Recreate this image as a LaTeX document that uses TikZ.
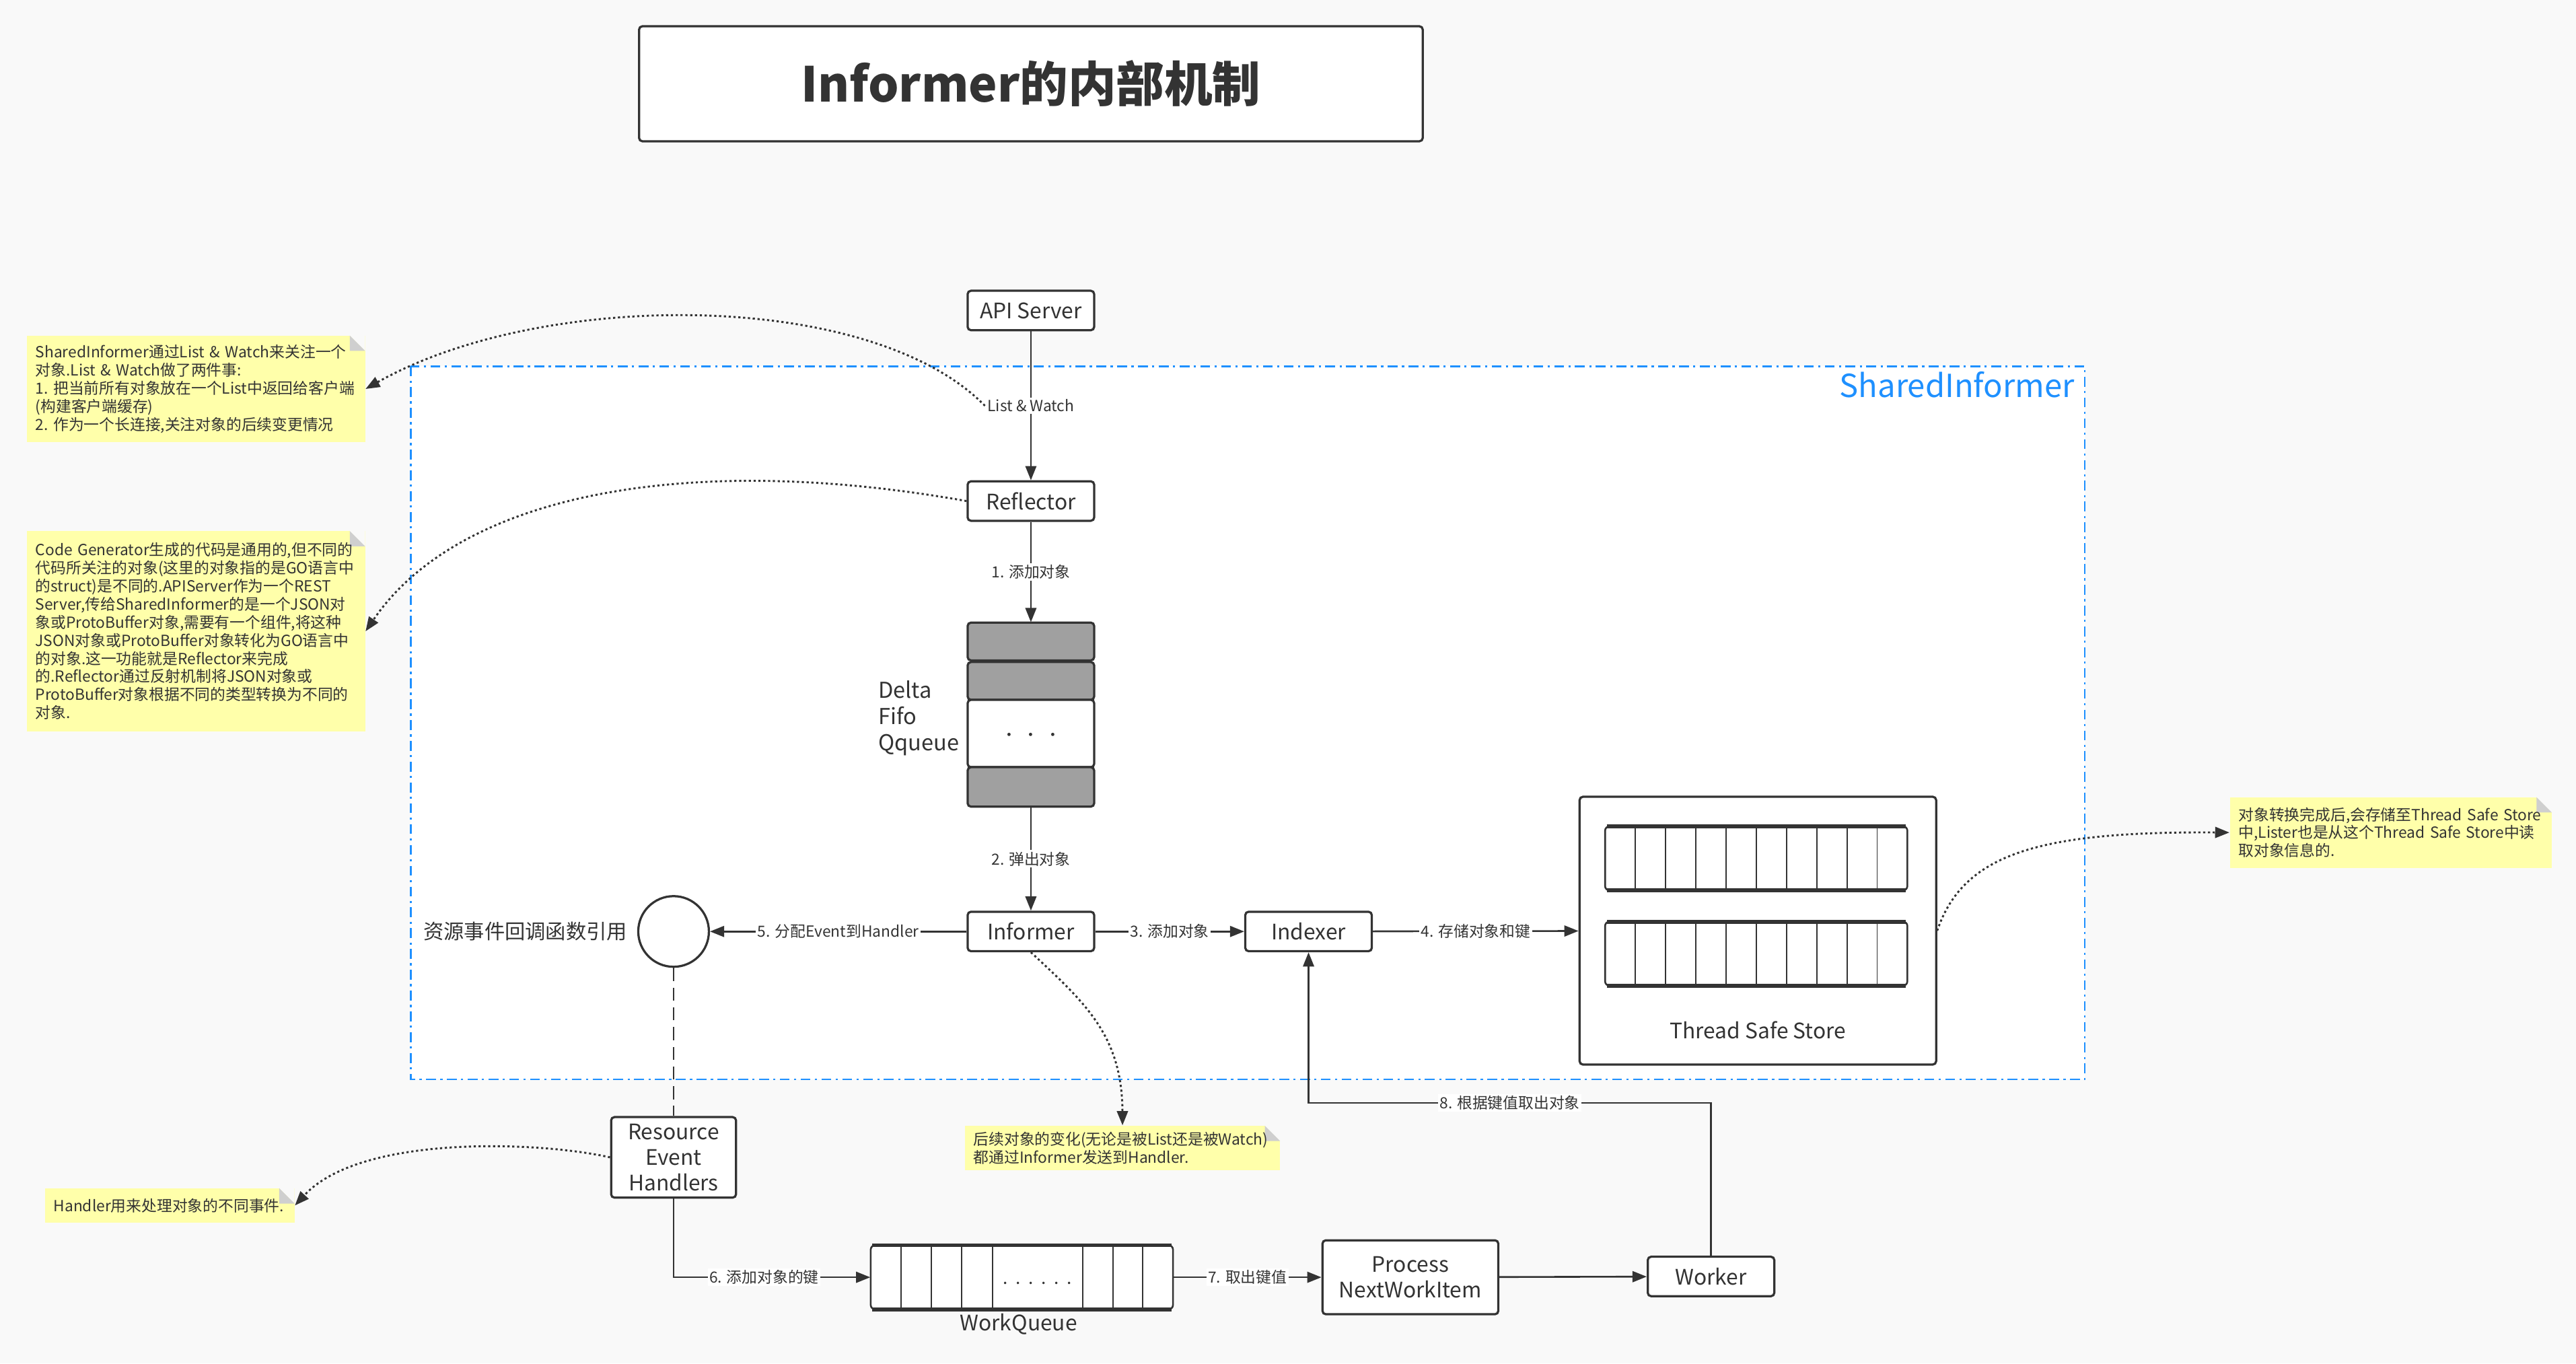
\documentclass[tikz,border=0pt]{standalone}
\usepackage{fontspec}
\setmainfont{Noto Sans CJK SC}
\usepackage{tikz}
\usetikzlibrary{arrows.meta}
\usepackage{xcolor}
\definecolor{bgcol}{HTML}{F9F9F9}
\definecolor{inkcol}{HTML}{333333}
\definecolor{siblue}{HTML}{1E90FF}
\definecolor{noteyel}{HTML}{FFFFAA}
\definecolor{foldcol}{HTML}{CFCFCF}
\definecolor{cellgray}{HTML}{A0A0A0}

\begin{document}
\begin{tikzpicture}[x=0.75pt,y=-0.75pt,
  box/.style={draw=inkcol,line width=1pt,rounded corners=1.5pt,fill=white,text=inkcol,align=center,
    font=\fontsize{9.75}{11.6}\selectfont,minimum width=57.75pt,minimum height=18pt,inner sep=1pt},
  lbl/.style={fill=white,text=inkcol,font=\fontsize{7}{8}\selectfont,inner sep=0.8pt},
  flow/.style={draw=inkcol,line width=0.8pt,-{Triangle[length=6.5pt,width=5pt]}},
  hint/.style={draw=inkcol,line width=0.9pt,dash pattern=on 1pt off 1.2pt,-{Triangle[length=6.5pt,width=5pt]}},
  note/.style={fill=noteyel,text=inkcol,anchor=north west,align=left,inner xsep=4pt,inner ysep=0pt,
    font=\fontsize{7}{8.25}\selectfont,
    path picture={\fill[bgcol] (path picture bounding box.north east) -- ++(-7pt,0) -- ++(7pt,-7pt) -- cycle;
      \fill[foldcol] (path picture bounding box.north east) ++(-7pt,0) -- ++(0,-7pt) -- ++(7pt,0) -- cycle;}},
  ]
  \useasboundingbox (0,0) rectangle (1568,830);
  \fill[bgcol] (0,0) rectangle (1568,830);

  % SharedInformer
  \draw[siblue,line width=0.8pt,fill=white,dash pattern=on 4.5pt off 2pt on 1pt off 2pt] (250,223) rectangle (1269,657);
  \node[text=siblue,anchor=north east,inner sep=0pt,font=\fontsize{14.5}{16}\selectfont] (silbl) at (1263,226) {SharedInformer};

  \node[box,minimum width=357.75pt,minimum height=52.5pt,font=\fontsize{22}{26}\selectfont\bfseries] (title) at (627.5,51) {Informer的内部机制};

  \node[box] (api) at (627.5,189) {API Server};
  \node[box] (refl) at (627.5,305) {Reflector};

  % Delta FIFO
  \node[minimum width=57.75pt,minimum height=84pt,inner sep=0pt] (fifo) at (627.5,435) {};
  \foreach \ftop/\fbot/\fcol in {379/402/cellgray,403/426/cellgray,426/467/white,467/491/cellgray}
	\draw[inkcol,line width=1pt,rounded corners=1.5pt,fill=\fcol] (589,\ftop) rectangle (666,\fbot);
  \node[text=inkcol,inner sep=0pt,font=\fontsize{7}{7}\selectfont] (fifodots) at (627.5,448.5) {·\hspace{3pt}·\hspace{3pt}·};
  \node[anchor=east,align=left,inner sep=0pt,text=inkcol,font=\fontsize{10}{12}\selectfont] (fifolbl) at (584,437) {Delta\\Fifo\\Qqueue};

  \node[box] (informer) at (627.5,567) {Informer};
  \node[box] (indexer) at (796.5,567) {Indexer};

  % Thread Safe Store
  \node[box,minimum width=162.75pt,minimum height=122.25pt] (store) at (1070,566.5) {};
  \foreach \ty in {503,561} {
	\draw[inkcol,line width=0.8pt,rounded corners=2pt,fill=white] (977,\ty) rectangle ++(184,39);
	\draw[inkcol,line width=1.8pt] (978,\ty) -- ++(182,0) (978,\ty+39) -- ++(182,0);
	\foreach \i in {1,...,9}
	  \draw[inkcol,line width=0.6pt] (977+\i*18.4,\ty) -- ++(0,39);
  }
  \node[text=inkcol,font=\fontsize{9.75}{11.6}\selectfont] (storelbl) at (1070,627) {Thread Safe Store};

  % callback reference
  \node[circle,draw=inkcol,line width=1pt,fill=white,minimum size=32.25pt,inner sep=0pt] (cbref) at (410,567) {};
  \node[anchor=east,inner sep=0pt,text=inkcol,font=\fontsize{9.3}{11}\selectfont] (cblbl) at (382,567) {资源事件回调函数引用};

  \node[box,minimum width=57pt,minimum height=36.75pt] (reh) at (410,704.5) {Resource\\Event\\Handlers};

  % WorkQueue
  \node[minimum width=138pt,minimum height=29.25pt,inner sep=0pt] (wq) at (622,777.5) {};
  \draw[inkcol,line width=0.8pt,rounded corners=2pt,fill=white] (530,758) rectangle (714,797);
  \draw[inkcol,line width=1.8pt] (531,758) -- (713,758) (531,797) -- (713,797);
  \foreach \cx in {548.5,567,585.5,604,659,677.3,695.7}
	\draw[inkcol,line width=0.6pt] (\cx,758) -- (\cx,797);
  \node[text=inkcol,inner sep=0pt,font=\fontsize{8}{8}\selectfont] (wqdots) at (631.5,781) {.\hspace{3.6pt}.\hspace{3.6pt}.\hspace{3.6pt}.\hspace{3.6pt}.\hspace{3.6pt}.};
  \node[text=inkcol,font=\fontsize{9.75}{11.6}\selectfont] (wqlbl) at (620,806) {WorkQueue};

  \node[box,minimum width=80.25pt,minimum height=33.75pt] (proc) at (858.5,777.5) {Process\\NextWorkItem};
  \node[box] (worker) at (1041.5,777) {Worker};

  % notes
  \node[note,text width=146.5pt,minimum height=48.75pt] (note1) at (16,204) {SharedInformer通过List~\&~Watch来关注一个\\对象.List~\&~Watch做了两件事:\\1.~把当前所有对象放在一个List中返回给客户端\\(构建客户端缓存)\\2.~作为一个长连接,关注对象的后续变更情况};
  \node[note,text width=146.5pt,minimum height=91.5pt] (note2) at (16,323) {Code~Generator生成的代码是通用的,但不同的\\代码所关注的对象(这里的对象指的是GO语言中\\的struct)是不同的.APIServer作为一个REST\\Server,传给SharedInformer的是一个JSON对\\象或ProtoBuffer对象,需要有一个组件,将这种\\JSON对象或ProtoBuffer对象转化为GO语言中\\的对象.这一功能就是Reflector来完成\\的.Reflector通过反射机制将JSON对象或\\ProtoBuffer对象根据不同的类型转换为不同的\\对象.};
  \node[note,text width=139pt,minimum height=32.25pt] (note3) at (1357,485) {对象转换完成后,会存储至Thread~Safe~Store\\中,Lister也是从这个Thread~Safe~Store中读\\取对象信息的.};
  \node[note,text width=106pt,minimum height=15.75pt] (note4) at (27,723) {Handler用来处理对象的不同事件.};
  \node[note,text width=136pt,minimum height=20.25pt] (note5) at (587,685) {后续对象的变化(无论是被List还是被Watch)\\都通过Informer发送到Handler.};

  % flow
  \draw[flow] (api) -- node[lbl] (lw) {List \& Watch} (refl);
  \draw[flow] (refl) -- node[lbl] (l1) {1. 添加对象} (fifo);
  \draw[flow] (fifo) -- node[lbl] (l2) {2. 弹出对象} (informer);
  \draw[flow] (informer) -- node[lbl] (l3) {3. 添加对象} (indexer);
  \draw[flow] (indexer) -- node[lbl] (l4) {4. 存储对象和键} (store);
  \draw[flow] (informer) -- node[lbl] (l5) {5. 分配Event到Handler} (cbref);
  \draw[inkcol,line width=0.8pt,dash pattern=on 6pt off 3pt] (cbref) -- (reh);
  \draw[flow] (reh) |- node[lbl,pos=0.73] (l6) {6. 添加对象的键} (wq);
  \draw[flow] (wq) -- node[lbl] (l7) {7. 取出键值} (proc);
  \draw[flow] (proc) -- (worker);
  \draw[flow] (worker.north) -- ++(0,-93) -| node[lbl,pos=0.25] (l8) {8. 根据键值取出对象} (indexer.south);

  % hints
  \draw[hint] (lw.west) .. controls (530,176) and (330,176) .. (note1.east);
  \draw[hint] (refl.west) .. controls (420,275) and (280,300) .. (note2.east);
  \draw[hint] (store.east) .. controls (1195,520) and (1240,506) .. (note3.west);
  \draw[hint] (informer.south) .. controls (660,610) and (683,630) .. (note5.north);
  \draw[hint] (reh.west) .. controls (330,695) and (220,690) .. (note4.east);
\end{tikzpicture}
\end{document}
